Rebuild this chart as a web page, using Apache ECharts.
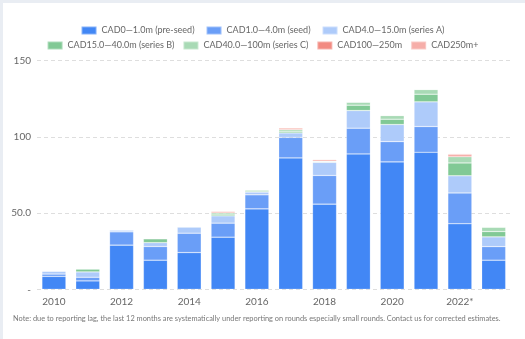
<!DOCTYPE html>
<html>
<head>
<meta charset="utf-8">
<script src="https://cdn.jsdelivr.net/npm/echarts@6/dist/echarts.min.js"></script>
<style>
html,body{margin:0;padding:0;background:#fff;}
#chart{width:525px;height:339px;}
</style>
</head>
<body>
<div id="chart"></div>
<script>
const years = ['2010','2011','2012','2013','2014','2015','2016','2017','2018','2019','2020','2021','2022*','2023'];
const seriesNames = ['CAD0—1.0m (pre-seed)','CAD1.0—4.0m (seed)','CAD4.0—15.0m (series A)','CAD15.0—40.0m (series B)','CAD40.0—100m (series C)','CAD100—250m','CAD250m+'];
const preSeed  = [8.5, 5.5, 29.0, 19.1, 24.1, 34.2, 52.8, 86.2, 55.9, 88.8, 83.6, 89.9, 43.0, 19.1];
const seed     = [1.5, 2.4, 8.7, 9.0, 12.7, 9.2, 9.2, 13.5, 18.8, 16.9, 13.3, 16.9, 20.2, 8.9];
const seriesA  = [2.0, 3.5, 1.3, 2.5, 4.2, 4.8, 1.8, 2.9, 8.6, 11.6, 11.2, 16.2, 11.3, 6.4];
const seriesB  = [0, 2.0, 0, 2.6, 0, 1.1, 0.7, 1.1, 0.5, 3.5, 3.5, 5.0, 8.4, 3.5];
const seriesC  = [0, 0, 0, 0, 0, 0.9, 0.8, 1.1, 0.4, 2.0, 2.4, 3.1, 4.1, 2.9];
const cad100   = [0, 0, 0, 0, 0, 0.9, 0, 1.0, 0.9, 0, 0, 0, 1.2, 0];
const cad250   = [0, 0, 0, 0, 0, 0, 0, 0, 0, 0, 0, 0, 0.8, 0];
const colors = ['#4287f5','#6a9ef7','#aecbfa','#81c995','#a8dab5','#f28b82','#f6aea9'];
const note = 'Note: due to reporting lag, the last 12 months are systematically under reporting on rounds especially small rounds. Contact us for corrected estimates.';

const allData = [preSeed, seed, seriesA, seriesB, seriesC, cad100, cad250];
const font = 'Lato';

const chart = echarts.init(document.getElementById('chart'));
const legendCommon = {
  left: 'center', itemWidth: 15, itemHeight: 8, itemGap: 8,
  icon: 'rect',
  textStyle: {fontSize: 9, color: '#666', fontFamily: font},
  selectedMode: false
};
chart.setOption({
  animation: false,
  textStyle: {fontFamily: font},
  legend: [
    Object.assign({}, legendCommon, {top: 20.5, itemGap: 11, data: seriesNames.slice(0,3)}),
    Object.assign({}, legendCommon, {top: 35.5, data: seriesNames.slice(3)})
  ],
  grid: {left: 37, right: 14.4, top: 60.7, bottom: 49.7},
  xAxis: {
    type: 'category', data: years,
    axisLine: {show: false}, axisTick: {show: false},
    axisLabel: {interval: 1, fontSize: 10, color: '#666', margin: 7, fontFamily: font}
  },
  yAxis: {
    type: 'value', min: 0, max: 150, interval: 50,
    axisLine: {show: false}, axisTick: {show: false},
    splitLine: {lineStyle: {color: '#dedede', type: [4,3], width: 1}},
    axisLabel: {fontSize: 10, color: '#666', margin: 6, fontFamily: font,
      formatter: v => v === 0 ? '-' : (v === 50 ? '50.0' : String(v))}
  },
  series: seriesNames.map((n, i) => ({
    name: n, type: 'bar', stack: 'total', data: allData[i],
    barCategoryGap: '29%',
    itemStyle: {color: colors[i], borderColor: 'rgba(255,255,255,0.35)', borderWidth: 0.6},
    emphasis: {disabled: true}
  })),
  graphic: [
    {type: 'rect', shape: {x: 0, y: 0, width: 525, height: 3}, style: {fill: '#e9edf3'}, silent: true},
    {type: 'rect', shape: {x: 0, y: 0, width: 3, height: 339}, style: {fill: '#e9edf3'}, silent: true},
    {type: 'text', left: 13, top: 315, style: {text: note, fontSize: 7.4, fill: '#777', fontFamily: font}}
  ]
});
</script>
</body>
</html>
